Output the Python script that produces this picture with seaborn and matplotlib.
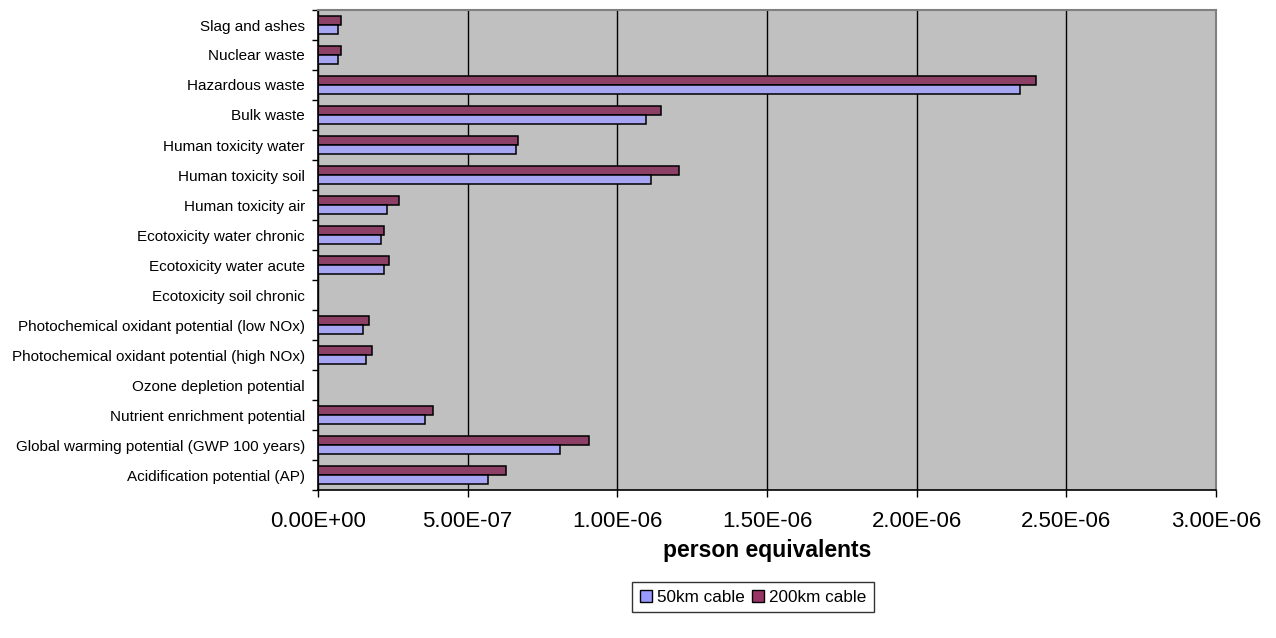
import matplotlib
matplotlib.use("Agg")
import matplotlib.pyplot as plt
import matplotlib.patches as mpatches
from matplotlib.ticker import FixedLocator, FuncFormatter
import seaborn as sns
import pandas as pd
import numpy as np

# Impact categories, listed top to bottom as drawn
categories = [
    "Slag and ashes",
    "Nuclear waste",
    "Hazardous waste",
    "Bulk waste",
    "Human toxicity water",
    "Human toxicity soil",
    "Human toxicity air",
    "Ecotoxicity water chronic",
    "Ecotoxicity water acute",
    "Ecotoxicity soil chronic",
    "Photochemical oxidant potential (low NOx)",
    "Photochemical oxidant potential (high NOx)",
    "Ozone depletion potential",
    "Nutrient enrichment potential",
    "Global warming potential (GWP 100 years)",
    "Acidification potential (AP)",
]

# Normalised impacts in person equivalents
cable_50km = [6.7e-08, 6.6e-08, 2.345e-06, 1.096e-06, 6.61e-07, 1.113e-06, 2.31e-07,
              2.09e-07, 2.20e-07, 0.0, 1.49e-07, 1.60e-07, 0.0, 3.58e-07, 8.10e-07, 5.67e-07]
cable_200km = [7.8e-08, 7.8e-08, 2.399e-06, 1.146e-06, 6.67e-07, 1.207e-06, 2.70e-07,
               2.21e-07, 2.37e-07, 0.0, 1.71e-07, 1.82e-07, 0.0, 3.85e-07, 9.05e-07, 6.29e-07]

series_names = ["50km cable", "200km cable"]
series_colors = {"50km cable": "#9999FF", "200km cable": "#993366"}
x_ticks = [0.0, 5e-07, 1e-06, 1.5e-06, 2e-06, 2.5e-06, 3e-06]

df = pd.DataFrame({
    "category": categories * 2,
    "value": cable_50km + cable_200km,
    "series": [series_names[0]] * len(categories) + [series_names[1]] * len(categories),
})

sns.set_theme(style="white")
plt.rcParams["font.family"] = ["Liberation Sans", "DejaVu Sans"]
plt.rcParams["text.color"] = "black"
plt.rcParams["axes.labelcolor"] = "black"

fig = plt.figure(figsize=(12.76, 6.38), dpi=100)
ax = fig.add_axes([318 / 1276, 1 - 490 / 638, (1216 - 318) / 1276, (490 - 10) / 638])
ax.set_facecolor("#C0C0C0")

sns.barplot(
    data=df, x="value", y="category", hue="series",
    order=categories, hue_order=["200km cable", "50km cable"],
    palette=series_colors, orient="h", width=0.62,
    edgecolor="black", linewidth=1.1, ax=ax, legend=False,
)

ax.set_xlim(0, 3e-06)
ax.set_ylim(len(categories) - 0.5, -0.5)

# vertical gridlines behind the bars
ax.set_axisbelow(True)
ax.xaxis.set_major_locator(FixedLocator(x_ticks))
ax.xaxis.set_major_formatter(FuncFormatter(lambda v, p: f"{v:.2E}"))
ax.grid(axis="x", color="black", linewidth=1.0)
ax.grid(axis="y", visible=False)

# category tick marks sit on the boundaries between categories
ax.yaxis.set_minor_locator(FixedLocator(np.arange(-0.5, len(categories), 1.0)))
ax.tick_params(axis="y", which="major", length=0, pad=9.5, labelsize=11, colors="black")
ax.tick_params(axis="y", which="minor", left=True, length=4.5, width=1, color="black", direction="out")
ax.tick_params(axis="x", which="major", bottom=True, length=5, width=1, color="black",
               direction="out", pad=10, labelsize=16, labelcolor="black")

for side in ("left", "bottom"):
    ax.spines[side].set_color("black")
    ax.spines[side].set_linewidth(1.2)
for side in ("top", "right"):
    ax.spines[side].set_visible(True)
    ax.spines[side].set_color("#808080")
    ax.spines[side].set_linewidth(1.5)

ax.set_ylabel("")
ax.set_xlabel("person equivalents", fontsize=16.5, fontweight="bold", labelpad=5, color="black")

handles = [mpatches.Patch(facecolor=series_colors[n], edgecolor="black", linewidth=1, label=n)
           for n in series_names]
leg = fig.legend(handles=handles, loc="center", bbox_to_anchor=(753 / 1276, 1 - 597 / 638),
                 ncol=2, frameon=True, fancybox=False, shadow=False, fontsize=12.3,
                 handlelength=0.7, handleheight=0.7, handletextpad=0.3, columnspacing=0.4,
                 borderpad=0.45, borderaxespad=0, labelcolor="black")
leg.get_frame().set_edgecolor("black")
leg.get_frame().set_linewidth(1)

fig.savefig("out.png", dpi=100, facecolor="white")
